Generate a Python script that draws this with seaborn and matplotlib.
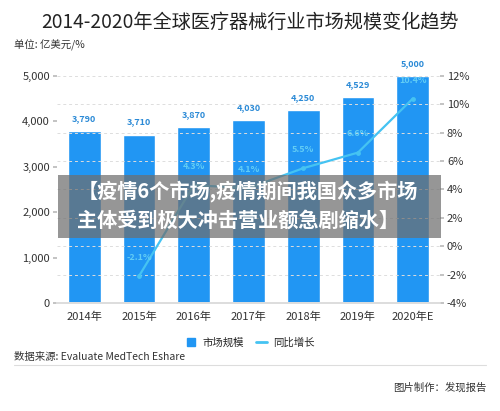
import numpy as np
import pandas as pd
import seaborn as sns
import matplotlib.pyplot as plt
from matplotlib.patches import Rectangle
from matplotlib.lines import Line2D

# 数据
years = ['2014年', '2015年', '2016年', '2017年', '2018年', '2019年', '2020年E']
market = [3790, 3710, 3870, 4030, 4250, 4529, 5000]
growth = [np.nan, -2.1, 4.3, 4.1, 5.5, 6.6, 10.4]

bar_color = '#2196f3'
line_color = '#45c3f2'

sns.set_theme(style='white')
plt.rcParams['font.family'] = ['Noto Sans CJK SC', 'DejaVu Sans']

fig = plt.figure(figsize=(5, 4.11), dpi=100)
ax = fig.add_axes([0.114, 0.263, 0.766, 0.552])

df = pd.DataFrame({'year': years, 'market': market, 'growth': growth})
sns.barplot(data=df, x='year', y='market', color=bar_color, saturation=1, width=0.6, ax=ax)
ax.set_ylim(0, 5000)
ax.set_yticks(range(0, 5001, 1000))
ax.set_yticklabels([f'{v:,}' for v in range(0, 5001, 1000)])
ax.set_xlabel('')
ax.set_ylabel('')

# 柱顶数值
for i, v in enumerate(market):
    ax.text(i, v + 180, f'{v:,}', ha='center', va='bottom', fontsize=6.5,
            color='#2b8ad6', fontweight='bold', clip_on=False)

# 右轴：同比增长
ax2 = ax.twinx()
ax2.set_ylim(-4, 12)
ax2.set_yticks(range(-4, 13, 2))
ax2.set_yticklabels([f'{v}%' for v in range(-4, 13, 2)])
ax2.yaxis.grid(True, color='#dddddd', linestyle=(0, (3, 3)), linewidth=0.7)
sns.lineplot(x=np.arange(len(years)), y=growth, color=line_color, linewidth=1.6,
             marker='o', markersize=3.5, markeredgewidth=0, ax=ax2)
for i, g in enumerate(growth):
    if not np.isnan(g):
        ax2.text(i, g + 1.0, f'{g}%', ha='center', va='bottom', fontsize=6.5,
                 color='#62cdf5', fontweight='bold')
ax2.set_xlim(-0.5, len(years) - 0.5)

for a in (ax, ax2):
    for s in ['top', 'left', 'right']:
        a.spines[s].set_visible(False)
    a.spines['bottom'].set_color('#dddddd')
    a.tick_params(length=3, color='#bbbbbb', labelsize=8, labelcolor='#333333', pad=2)
ax.tick_params(axis='x', length=3, pad=3)
ax.grid(False)

# 标题和注释
fig.text(0.5, 0.945, '2014-2020年全球医疗器械行业市场规模变化趋势', ha='center', va='center',
         fontsize=13.8, color='#222222')
fig.text(0.028, 0.89, '单位: 亿美元/%', ha='left', va='center', fontsize=7.5, color='#333333')

handles = [Line2D([], [], marker='s', linestyle='none', color=bar_color, markersize=6),
           Line2D([], [], color=line_color, linewidth=2)]
fig.legend(handles, ['市场规模', '同比增长'], loc='center', bbox_to_anchor=(0.5, 0.166),
           ncol=2, frameon=False, fontsize=7.5, handlelength=1.0, columnspacing=1.2,
           handletextpad=0.6)

fig.text(0.028, 0.131, '数据来源: Evaluate MedTech Eshare', ha='left', va='center',
         fontsize=7.5, color='#333333')
fig.add_artist(Line2D([0.028, 0.972], [0.112, 0.112], color='#dddddd', linewidth=0.8))
fig.text(0.972, 0.056, '图片制作：发现报告', ha='right', va='center', fontsize=7.5, color='#333333')

# 覆盖横幅
fig.add_artist(Rectangle((0.116, 0.421), 0.766, 0.153, transform=fig.transFigure,
                         color='#6e6e6e', alpha=0.72, linewidth=0))
fig.text(0.155, 0.535, '【疫情6个市场,疫情期间我国众多市场', ha='left', va='center',
         fontsize=14.5, fontweight='bold', color='white')
fig.text(0.155, 0.463, '主体受到极大冲击营业额急剧缩水】', ha='left', va='center',
         fontsize=14.5, fontweight='bold', color='white')

fig.savefig('out.png', dpi=100)
